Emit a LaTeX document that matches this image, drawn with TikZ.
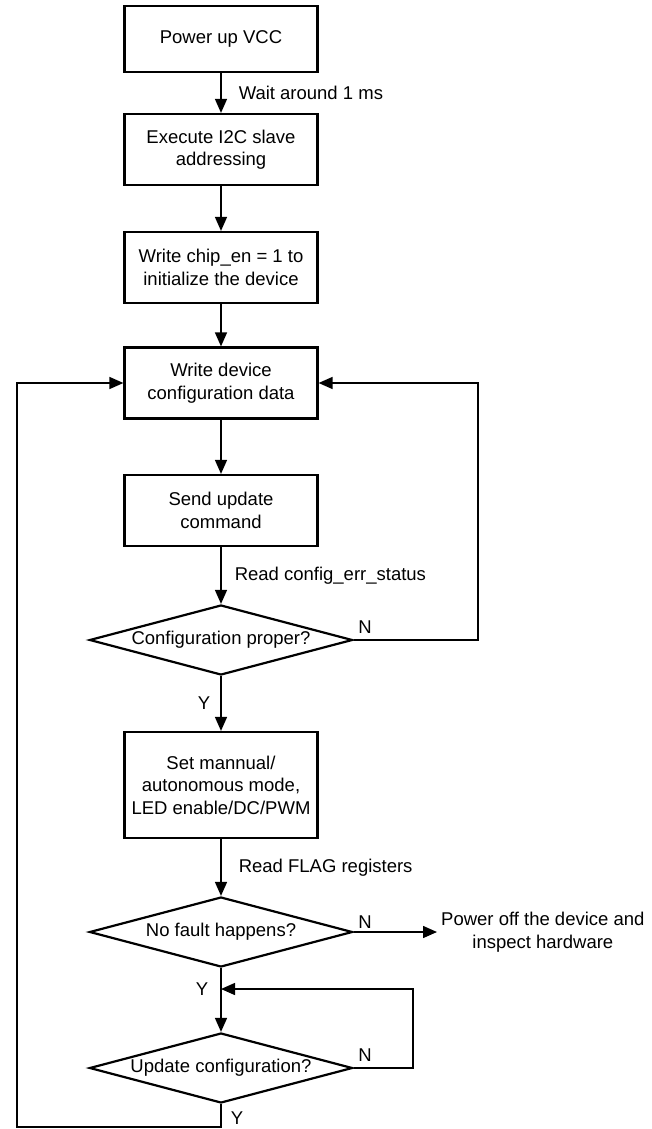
\documentclass[tikz,border=0pt]{standalone}
\usepackage{fontspec}
\setmainfont{Liberation Sans}
\usetikzlibrary{arrows.meta, positioning, shapes.geometric}

\tikzset{
  stepbox/.style={draw, line width=2.2pt, minimum width=193pt, minimum height=71pt, align=center, inner sep=2pt},
  decision/.style={draw, diamond, aspect=3.76, line width=2.2pt, minimum width=263pt, minimum height=70pt, inner sep=0pt, align=center},
  flow/.style={-{Triangle[length=14pt, width=12pt]}, line width=1.5pt},
  lbl/.style={inner sep=2pt},
}

\begin{document}
\begin{tikzpicture}[x=1pt, y=-1pt, font=\fontsize{18.5pt}{22.5pt}\selectfont]

% Page frame
\useasboundingbox (0,0) rectangle (652,1129);

% Process steps
\node[stepbox, minimum height=66pt] (start) at (221,39) {Power up VCC};
\node[stepbox] (addr) at (221,149.5) {Execute I2C slave\\addressing};
\node[stepbox] (chipen) at (221,267.5) {Write chip\_en = 1 to\\initialize the device};
\node[stepbox] (config) at (221,383) {Write device\\configuration data};
\node[stepbox] (update) at (221,510.5) {Send update\\command};
\node[decision] (chkcfg) at (221,640) {Configuration proper?};
\node[stepbox, minimum height=106pt] (mode) at (221,785) {Set mannual/\\autonomous mode,\\LED enable/DC/PWM};
\node[decision] (chkflt) at (221,932) {No fault happens?};
\node[decision] (chkupd) at (221,1068) {Update configuration?};
\node[lbl, anchor=west, inner sep=4pt, align=center] (poweroff) at (437,932) {Power off the device and\\inspect hardware};

% Loop corners
\coordinate (rloop) at (478,640);
\coordinate (uloop) at (413,1068);
\coordinate (join) at (221,989);
\coordinate (lloop) at (17,1127);

% Main flow
\draw[flow] (start) -- node[lbl, right, xshift=15pt] {Wait around 1 ms} (addr);
\draw[flow] (addr) -- (chipen);
\draw[flow] (chipen) -- (config);
\draw[flow] (config) -- (update);
\draw[flow] (update) -- node[lbl, right, xshift=11pt] {Read config\_err\_status} (chkcfg);
\draw[flow] (chkcfg) -- node[lbl, left, xshift=-8pt] {Y} (mode);
\draw[flow] (mode) -- node[lbl, right, xshift=15pt] {Read FLAG registers} (chkflt);
\draw[flow] (chkflt) -- (chkupd);
\draw[flow] (chkflt) -- (poweroff);

% Feedback loops
\draw[flow] (chkcfg.east) -- (rloop) |- (config.east);
\draw[flow] (chkupd.east) -- (uloop) |- (join);
\draw[flow] (chkupd.south) |- (lloop) |- (config.west);

% Branch labels
\node[lbl] (n1) at (365,627) {N};
\node[lbl] (n2) at (365,922) {N};
\node[lbl] (n3) at (365,1055) {N};
\node[lbl] (y2) at (202,989) {Y};
\node[lbl] (y3) at (237,1118) {Y};

\end{tikzpicture}
\end{document}
